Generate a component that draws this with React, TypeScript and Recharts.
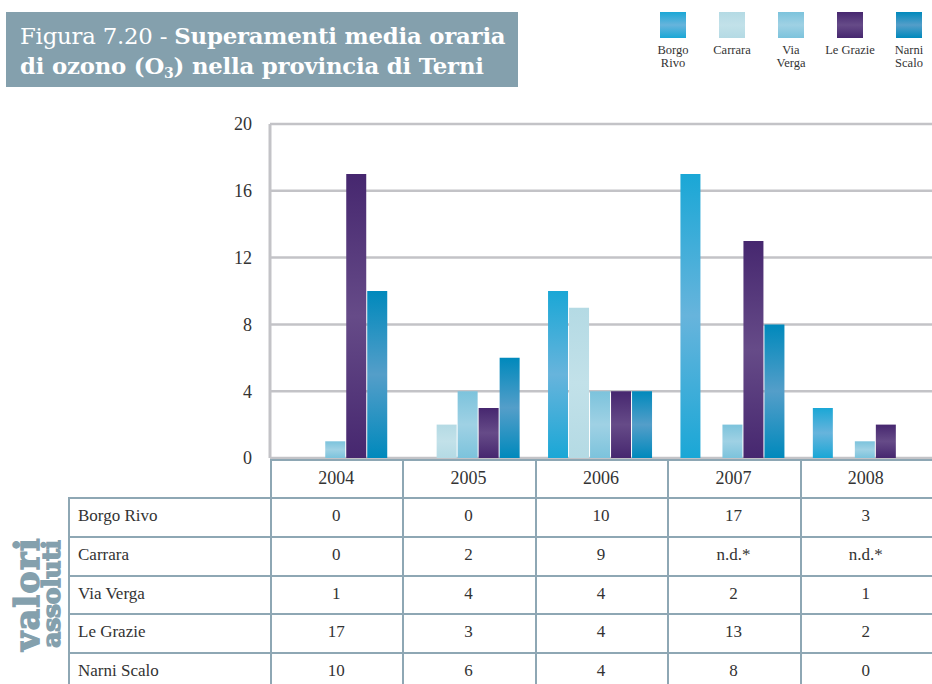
import React from 'react';
import { BarChart, Bar, XAxis, YAxis, CartesianGrid } from 'recharts';

const years = ['2004', '2005', '2006', '2007', '2008'];
const borgoRivo = [0, 0, 10, 17, 3];
const carrara: (number | null)[] = [0, 2, 9, null, null];
const viaVerga = [1, 4, 4, 2, 1];
const leGrazie = [17, 3, 4, 13, 2];
const narniScalo = [10, 6, 4, 8, 0];
const yTicks = [0, 4, 8, 12, 16, 20];

const seriesNames = ['Borgo Rivo', 'Carrara', 'Via Verga', 'Le Grazie', 'Narni Scalo'];
const legendLabels = [['Borgo', 'Rivo'], ['Carrara'], ['Via', 'Verga'], ['Le Grazie'], ['Narni', 'Scalo']];
const seriesKeys = ['borgoRivo', 'carrara', 'viaVerga', 'leGrazie', 'narniScalo'];
const seriesValues = [borgoRivo, carrara, viaVerga, leGrazie, narniScalo];
const gradEnds = ['#1aa7d6', '#b4dae4', '#7cc3dc', '#46276f', '#0089bc'];
const gradMids = ['#67b4dc', '#c2e1e9', '#9fd1e4', '#664b88', '#549ec9'];

const data = years.map((y, i) => {
  const row: Record<string, any> = { year: y };
  seriesKeys.forEach((k, j) => { row[k] = seriesValues[j][i]; });
  return row;
});

const W = 932;
const PLOT_LEFT = 270;
const PLOT_TOP = 124;
const PLOT_BOTTOM = 458;
const TABLE_TOP = 459;
const HEADER_H = 38;
const ROW_H = 38.75;
const LABEL_LEFT = 68;
const COL_W = (W - PLOT_LEFT) / years.length;
const BORDER = '#8ea7b4';
const SERIF = '"Liberation Serif", serif';

function LegendBox() {
  return (
    <div style={{ position: 'absolute', left: 640, top: 12, width: 292, height: 70 }}>
      {seriesNames.map((n, i) => (
        <div key={n} style={{ position: 'absolute', left: 20 + i * 59 - 20, top: 0, width: 66, textAlign: 'center' }}>
          <svg width={26} height={26} style={{ display: 'block', margin: '0 auto' }}>
            <rect x={0} y={0} width={26} height={26} fill={`url(#lg${i})`} />
          </svg>
          <div style={{ fontFamily: SERIF, fontSize: 12.5, lineHeight: '12.5px', color: '#333', marginTop: 6 }}>
            {legendLabels[i].map((l, j) => (<React.Fragment key={l}>{j > 0 && <br />}{l}</React.Fragment>))}
          </div>
        </div>
      ))}
    </div>
  );
}

export default function App() {
  const hLines: number[] = [TABLE_TOP];
  for (let r = 0; r <= seriesNames.length; r++) hLines.push(TABLE_TOP + HEADER_H + r * ROW_H);
  return (
    <div style={{ position: 'relative', width: W, height: 684, overflow: 'hidden', background: '#fff' }}>
      <style>{'body{margin:0}'}</style>
      <svg width={0} height={0} style={{ position: 'absolute' }}>
        <defs>
          {gradEnds.map((c, i) => (
            <linearGradient key={i} id={`lg${i}`} x1="0" y1="0" x2="0" y2="1">
              <stop offset="0%" stopColor={c} />
              <stop offset="50%" stopColor={gradMids[i]} />
              <stop offset="100%" stopColor={c} />
            </linearGradient>
          ))}
        </defs>
      </svg>
      {/* title box */}
      <div style={{ position: 'absolute', left: 6, top: 12, width: 512, height: 75, background: '#84a0ad', color: '#fff', fontFamily: '"DejaVu Serif", serif', fontSize: 22.8, lineHeight: '30px', padding: '9px 0 0 14px', boxSizing: 'border-box', letterSpacing: -0.2, whiteSpace: 'nowrap' }}>
        <div><span style={{ fontWeight: 400 }}>Figura 7.20 - </span><b>Superamenti media oraria</b></div>
        <div><b>di ozono (O<span style={{ fontSize: 14, verticalAlign: -4 }}>3</span>) nella provincia di Terni</b></div>
      </div>
      <LegendBox />
      <div style={{ position: 'absolute', left: 0, top: 0 }}>
        <BarChart width={W} height={470} data={data} margin={{ top: PLOT_TOP, right: 0, bottom: 470 - PLOT_BOTTOM, left: 210 }} barCategoryGap="10%" barGap={1}>
          <defs>
            {gradEnds.map((c, i) => (
              <linearGradient key={i} id={`bg${i}`} x1="0" y1="0" x2="0" y2="1">
                <stop offset="0%" stopColor={c} />
                <stop offset="50%" stopColor={gradMids[i]} />
                <stop offset="100%" stopColor={c} />
              </linearGradient>
            ))}
          </defs>
          <CartesianGrid vertical={false} stroke="#c3c3c7" strokeWidth={2.5} />
          <XAxis dataKey="year" hide />
          <YAxis width={60} domain={[0, 20]} ticks={yTicks} interval={0} tickLine={false} tickMargin={12}
            axisLine={{ stroke: '#c3c3c7', strokeWidth: 3 }}
            tick={{ fill: '#333', fontSize: 18, fontFamily: SERIF }} />
          {seriesKeys.map((k, i) => (
            <Bar key={k} dataKey={k} name={seriesNames[i]} fill={`url(#bg${i})`} isAnimationActive={false} />
          ))}
        </BarChart>
      </div>
      {/* table lines */}
      {hLines.map((y, i) => (
        <div key={`h${i}`} style={{ position: 'absolute', left: i === 0 ? PLOT_LEFT : LABEL_LEFT, top: y, width: W - (i === 0 ? PLOT_LEFT : LABEL_LEFT), height: 2, background: BORDER }} />
      ))}
      <div style={{ position: 'absolute', left: LABEL_LEFT, top: TABLE_TOP + HEADER_H, width: 2, height: 300, background: BORDER }} />
      {years.map((y, i) => (
        <div key={`v${i}`} style={{ position: 'absolute', left: PLOT_LEFT + i * COL_W, top: TABLE_TOP, width: 2, height: 300, background: BORDER }} />
      ))}
      {/* header */}
      {years.map((y, i) => (
        <div key={`y${y}`} style={{ position: 'absolute', left: PLOT_LEFT + i * COL_W, top: TABLE_TOP, width: COL_W, height: HEADER_H, lineHeight: `${HEADER_H}px`, textAlign: 'center', fontFamily: SERIF, fontSize: 18, color: '#333' }}>{y}</div>
      ))}
      {seriesNames.map((n, r) => (
        <React.Fragment key={n}>
          <div style={{ position: 'absolute', left: LABEL_LEFT + 10, top: TABLE_TOP + HEADER_H + r * ROW_H, height: ROW_H, lineHeight: `${ROW_H}px`, fontFamily: SERIF, fontSize: 17, color: '#333' }}>{n}</div>
          {seriesValues[r].map((v, c) => (
            <div key={c} style={{ position: 'absolute', left: PLOT_LEFT + c * COL_W, top: TABLE_TOP + HEADER_H + r * ROW_H, width: COL_W, height: ROW_H, lineHeight: `${ROW_H}px`, textAlign: 'center', fontFamily: SERIF, fontSize: 17, color: '#333' }}>{v === null ? 'n.d.*' : v}</div>
          ))}
        </React.Fragment>
      ))}
      {/* vertical label */}
      <div style={{ position: 'absolute', left: 39, top: 594, width: 0, height: 0 }}>
        <div style={{ position: 'absolute', transform: 'translate(-50%, -50%) rotate(-90deg)', whiteSpace: 'nowrap', color: '#84a0ad', fontFamily: '"DejaVu Serif", serif', fontWeight: 700, textAlign: 'center', WebkitTextStroke: '1.5px #84a0ad' }}>
          <div style={{ fontSize: 33, lineHeight: '26px', letterSpacing: 1.5 }}>valori</div>
          <div style={{ fontSize: 25, lineHeight: '22px', letterSpacing: -0.3 }}>assoluti</div>
        </div>
      </div>
    </div>
  );
}
